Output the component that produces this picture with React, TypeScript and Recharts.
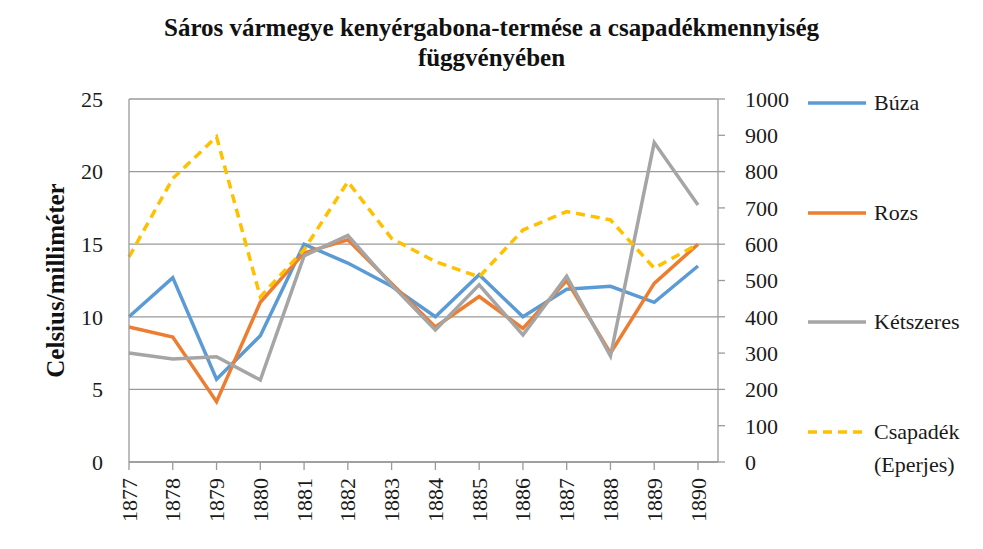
import React from 'react';
import { LineChart, Line, XAxis, YAxis, CartesianGrid } from 'recharts';

const years = ['1877', '1878', '1879', '1880', '1881', '1882', '1883', '1884', '1885', '1886', '1887', '1888', '1889', '1890'];
const buza = [10.0, 12.7, 5.7, 8.7, 15.0, 13.7, 12.1, 10.0, 12.9, 10.0, 11.9, 12.1, 11.0, 13.5];
const rozs = [9.3, 8.6, 4.15, 11.0, 14.4, 15.3, 12.3, 9.3, 11.4, 9.2, 12.5, 7.5, 12.3, 15.0];
const ketszeres = [7.5, 7.1, 7.25, 5.65, 14.2, 15.6, 12.2, 9.1, 12.2, 8.75, 12.8, 7.3, 22.0, 17.7];
const csapadek = [565, 781, 896, 455, 585, 772, 616, 552, 510, 639, 690, 667, 534, 600];
const leftTicks = [0, 5, 10, 15, 20, 25];
const rightTicks = [0, 100, 200, 300, 400, 500, 600, 700, 800, 900, 1000];

const seriesNames = ['Búza', 'Rozs', 'Kétszeres', 'Csapadék'];
const colors = ['#5B9BD5', '#ED7D31', '#A5A5A5', '#FFC000'];

const data = years.map((y, i) => ({
  year: y,
  buza: buza[i],
  rozs: rozs[i],
  ketszeres: ketszeres[i],
  csapadek: csapadek[i],
}));

const FONT = '"Liberation Serif", serif';
const GRID = '#9a9a9a';

const XTick = (props: any) => {
  const { x, y, payload } = props;
  return (
    <text
      x={x}
      y={y}
      transform={`rotate(-90, ${x}, ${y})`}
      textAnchor="end"
      dominantBaseline="central"
      fontFamily={FONT}
      fontSize={22}
      fill="#1a1a1a"
    >
      {payload.value}
    </text>
  );
};

const LegendItem = ({ top, color, dashed, label }: any) => (
  <div style={{ position: 'absolute', left: 806, top, display: 'flex', alignItems: 'flex-start' }}>
    <svg width={62} height={24} style={{ display: 'block' }}>
      <line x1={2} y1={12} x2={60} y2={12} stroke={color} strokeWidth={3.5} strokeDasharray={dashed ? '9 6' : undefined} />
    </svg>
    <div style={{ marginLeft: 6, fontFamily: FONT, fontSize: 22, lineHeight: '33px', marginTop: -5, color: '#1a1a1a' }}>{label}</div>
  </div>
);

export default function App() {
  return (
    <div style={{ position: 'absolute', left: 0, top: 0, width: 983, height: 549, background: '#fff' }}>
      <div
        style={{
          position: 'absolute',
          left: 0,
          top: 13,
          width: 983,
          textAlign: 'center',
          fontFamily: FONT,
          fontWeight: 'bold',
          fontSize: 25,
          lineHeight: '30px',
          color: '#111',
        }}
      >
        <div>Sáros vármegye kenyérgabona-termése a csapadékmennyiség</div>
        <div>függvényében</div>
      </div>
      <LineChart width={983} height={549} data={data} margin={{ top: 99, right: 185, bottom: 7, left: 20 }}>
        <CartesianGrid yAxisId="left" vertical={false} stroke={GRID} strokeWidth={1.3} />
        <XAxis
          dataKey="year"
          interval={0}
          padding={{ left: 0, right: 20 }}
          height={80}
          tick={<XTick />}
          tickSize={8}
          tickMargin={8}
          axisLine={{ stroke: GRID, strokeWidth: 1.3 }}
          tickLine={{ stroke: GRID, strokeWidth: 1.3 }}
        />
        <YAxis
          yAxisId="left"
          width={109}
          domain={[0, 25]}
          ticks={leftTicks}
          interval={0}
          tickLine={false}
          tickSize={8}
          tickMargin={18}
          axisLine={{ stroke: GRID, strokeWidth: 1.3 }}
          tick={{ fontFamily: FONT, fontSize: 22, fill: '#1a1a1a' }}
          label={{
            value: 'Celsius/milliméter',
            angle: -90,
            position: 'insideLeft',
            offset: 35,
            style: { fontFamily: FONT, fontSize: 25, fontWeight: 'bold', fill: '#111', textAnchor: 'middle' },
          }}
        />
        <YAxis
          yAxisId="right"
          orientation="right"
          width={80}
          domain={[0, 1000]}
          ticks={rightTicks}
          interval={0}
          tickSize={7}
          tickMargin={20}
          axisLine={{ stroke: GRID, strokeWidth: 1.3 }}
          tickLine={{ stroke: GRID, strokeWidth: 1.3 }}
          tick={{ fontFamily: FONT, fontSize: 22, fill: '#1a1a1a', textAnchor: 'start' }}
        />
        <Line yAxisId="left" dataKey="buza" name={seriesNames[0]} stroke={colors[0]} strokeWidth={3.5} dot={false} isAnimationActive={false} />
        <Line yAxisId="left" dataKey="rozs" name={seriesNames[1]} stroke={colors[1]} strokeWidth={3.5} dot={false} isAnimationActive={false} />
        <Line yAxisId="left" dataKey="ketszeres" name={seriesNames[2]} stroke={colors[2]} strokeWidth={3.5} dot={false} isAnimationActive={false} />
        <Line yAxisId="right" dataKey="csapadek" name={seriesNames[3]} stroke={colors[3]} strokeWidth={3.5} strokeDasharray="9 6" dot={false} isAnimationActive={false} />
      </LineChart>
      <LegendItem top={91} color={colors[0]} label={seriesNames[0]} />
      <LegendItem top={201} color={colors[1]} label={seriesNames[1]} />
      <LegendItem top={310} color={colors[2]} label={seriesNames[2]} />
      <LegendItem top={420} color={colors[3]} dashed label={<span>{seriesNames[3]}<br />(Eperjes)</span>} />
    </div>
  );
}
